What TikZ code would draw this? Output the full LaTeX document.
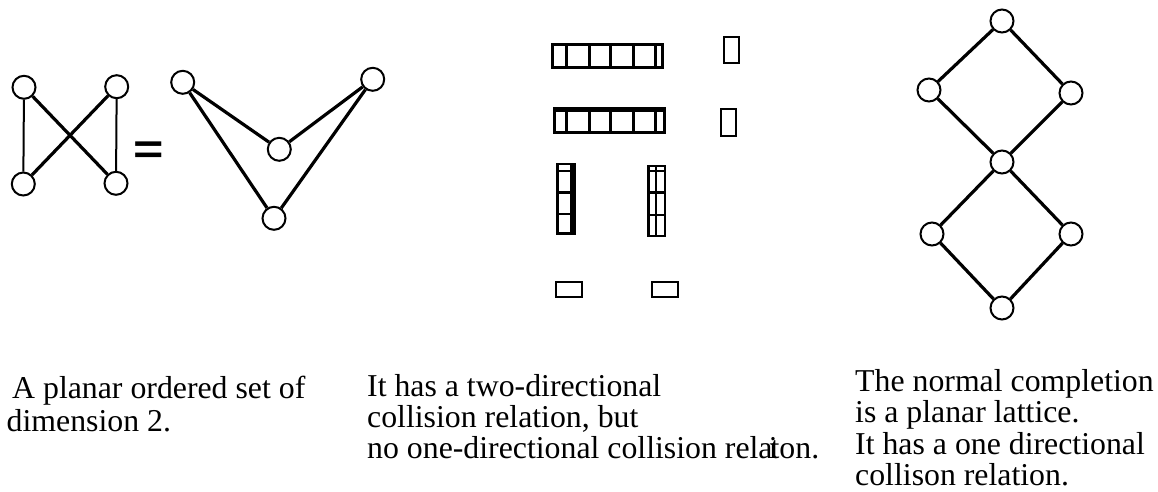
\documentclass[tikz,border=0pt]{standalone}
\usepackage{fontspec}
\setmainfont{Liberation Serif}
\newfontfamily\eqfont{Liberation Sans}
\begin{document}
\begin{tikzpicture}[x=1pt,y=-1pt,
  vtx/.style={circle,draw,line width=2pt,minimum size=23pt,inner sep=0pt,fill=white},
  edge/.style={line width=3.2pt},
  thinedge/.style={line width=2pt},
  bar/.style={line width=2.8pt},
  box/.style={line width=1.8pt},
  lbl/.style={anchor=base west,inner sep=0pt,font=\fontsize{31.8pt}{32pt}\selectfont}]
\useasboundingbox (0,0) rectangle (1158,491);
% left ordered set
\node[vtx] (tl) at (24,87.3) {};
\node[vtx] (tr) at (116.7,86.7) {};
\node[vtx] (bl) at (23.3,184) {};
\node[vtx] (br) at (116,183.3) {};
\draw[thinedge] (tl) -- (bl);
\draw[thinedge] (tr) -- (br);
\draw[edge] (tl) -- (br);
\draw[edge] (tr) -- (bl);
% equals sign
\node[anchor=base,inner sep=0pt,yscale=0.8,font=\eqfont\bfseries\fontsize{52pt}{52pt}\selectfont] (eq) at (148.5,163) {=};
% V shape
\node[vtx] (va) at (182.7,82.3) {};
\node[vtx] (vb) at (372.7,79.3) {};
\node[vtx] (vc) at (279.3,149.3) {};
\node[vtx] (vd) at (274,218.3) {};
\draw[edge] (va) -- (vc);
\draw[edge] (vc) -- (vb);
\draw[edge] (va) -- (vd);
\draw[edge] (vd) -- (vb);
% middle rectangles
\draw[bar] (552.3,44.3) rectangle (662.7,67.7);
\foreach \x in {566.7,589.3,610.7,633.3,655.3} \draw[bar] (\x,44.3) -- (\x,67.7);
\draw[bar] (554.3,108.3) rectangle (664.3,132.3);
\draw[bar] (554.3,110.3) -- (664.3,110.3);
\foreach \x in {566.7,589.3,610.7,633.3,655.7} \draw[bar] (\x,107.3) -- (\x,132.3);
\draw[bar] (557.3,164) rectangle (574.3,233.3);
\draw[bar] (571.7,164) -- (571.7,233.3);
\foreach \y in {171,192.7,214} \draw[bar] (557.3,\y) -- (574.3,\y);
\draw[bar] (648.3,166) rectangle (665,236);
\draw[bar] (656,166) -- (656,236);
\foreach \y in {171,192.7,215} \draw[bar] (648.3,\y) -- (665,\y);
\draw[box] (724,36.7) rectangle (738.7,63.3);
\draw[box] (721,109.3) rectangle (735.7,135.7);
\draw[box] (556,281.7) rectangle (582.3,296.7);
\draw[box] (651.7,281.7) rectangle (678.3,296.7);
% lattice
\node[vtx] (lt) at (1002,21) {};
\node[vtx] (lul) at (929,90) {};
\node[vtx] (lur) at (1071,93) {};
\node[vtx] (lm) at (1002,162) {};
\node[vtx] (lll) at (932,234) {};
\node[vtx] (llr) at (1071,234) {};
\node[vtx] (lb) at (1002,308) {};
\draw[edge] (lt) -- (lul);
\draw[edge] (lt) -- (lur);
\draw[edge] (lul) -- (lm);
\draw[edge] (lur) -- (lm);
\draw[edge] (lm) -- (lll);
\draw[edge] (lm) -- (llr);
\draw[edge] (lll) -- (lb);
\draw[edge] (llr) -- (lb);
% texts
\node[lbl] (t1a) at (12,398) {A planar ordered set of};
\node[lbl] (t1b) at (6.5,431) {dimension 2.};
\node[lbl] (t2a) at (367,396) {It has a two-directional};
\node[lbl] (t2b) at (367,427) {collision relation, but};
\node[lbl] (t2c) at (367,458) {no one-directional collision rela\kern-0.12em i\kern-0.22em ton.};
\node[lbl] (t3a) at (855,391) {The normal completion};
\node[lbl] (t3b) at (855,422) {is a planar lattice.};
\node[lbl] (t3c) at (855,454) {It has a one directional};
\node[lbl] (t3d) at (855,485) {collison relation.};
\end{tikzpicture}
\end{document}
